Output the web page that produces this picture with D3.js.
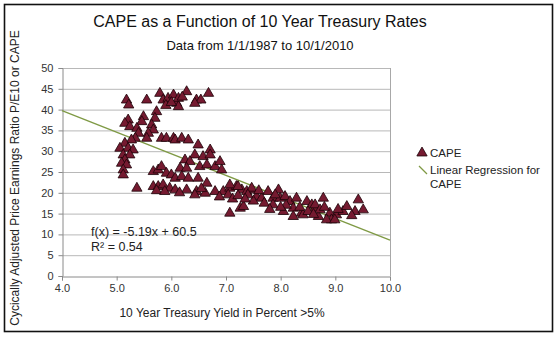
<!DOCTYPE html>
<html><head><meta charset="utf-8">
<script src="https://cdn.jsdelivr.net/npm/d3@7"></script>
<style>body{margin:0;background:#fff}svg{display:block;font-family:"Liberation Sans",Arial,sans-serif}</style>
</head><body><svg id="c" width="558" height="337"></svg>
<script>
const xTicks = [4, 5, 6, 7, 8, 9, 10];
const yTicks = [0, 5, 10, 15, 20, 25, 30, 35, 40, 45, 50];
const slope = -5.19, intercept = 60.5, r2 = 0.54;
// Yield (%) and CAPE pairs
const yields = [
 5.18,5.22,5.55,5.79,5.85,5.94,6.04,6.10,6.13,6.28,6.13,6.20,6.46,6.54,6.43,6.68,5.90,6.00,
 5.73,5.70,5.49,5.46,5.21,5.15,5.24,5.37,5.64,5.67,5.58,5.55,5.40,5.34,5.27,5.82,5.91,6.04,5.15,5.06,5.21,5.30,5.12,5.24,5.15,5.09,5.18,5.12,5.12,
 6.07,6.19,6.31,6.49,6.71,6.43,6.58,6.71,6.25,6.34,6.16,6.28,6.52,6.65,6.80,6.89,6.92,5.67,5.76,5.82,5.91,6.00,6.07,6.19,6.31,6.49,6.65,
 5.37,5.67,5.76,5.85,5.97,6.07,6.28,6.46,6.62,6.80,6.95,7.07,7.19,7.29,7.38,6.43,7.04,5.73,5.88,6.15,6.55,6.88,7.12,7.22,7.47,7.07,7.22,7.47,
 7.07,7.26,7.32,7.56,7.65,7.77,7.96,7.86,7.99,8.08,8.17,8.29,8.23,8.38,8.48,8.57,8.63,8.69,8.78,8.63,8.72,8.90,9.02,9.14,9.21,9.36,9.42,9.51,8.93,8.84,8.99,8.23,8.41,8.05,7.86,7.50,7.70,7.40,7.60,7.90,8.10,8.35,8.50,8.80,9.05,9.30,8.60,7.80,8.00,7.35
];
const cape = [
 42.3,41.1,42.3,43.9,42.3,42.7,43.5,41.5,40.7,44.3,42.7,43.0,42.3,42.3,41.5,43.9,41.0,41.7,
 39.5,37.9,38.3,37.1,37.5,36.7,35.9,35.5,36.3,35.1,34.3,33.1,34.3,33.1,32.7,33.1,33.1,33.1,31.9,30.7,30.7,30.3,29.1,29.1,27.9,27.1,26.7,25.5,24.3,
 32.7,33.1,32.7,31.5,30.3,29.1,28.7,29.1,27.9,27.5,25.9,25.9,26.3,26.7,26.3,27.5,25.5,25.1,25.5,26.3,24.7,24.3,23.5,23.9,23.5,23.5,22.3,
 21.1,21.5,21.5,21.9,21.1,20.7,20.7,20.3,19.9,20.3,20.3,21.1,21.5,20.7,20.3,19.5,19.5,20.5,20.3,20.0,21.0,19.0,18.5,19.3,20.7,21.9,21.5,21.1,
 15.1,16.3,16.7,19.1,18.7,20.3,20.7,18.7,18.7,19.1,17.9,18.7,16.3,15.1,17.9,17.1,16.3,14.3,18.7,17.1,15.9,15.1,14.7,15.5,16.7,15.5,18.3,15.9,13.5,13.5,13.5,14.3,14.7,15.5,17.1,18.0,17.5,19.5,20.5,19.5,17.0,16.5,15.5,16.5,16.0,14.5,14.8,16.0,16.5,18.5
];
const titleText = "CAPE as a Function of 10 Year Treasury Rates";
const subtitleText = "Data from 1/1/1987 to 10/1/2010";
const xTitle = "10 Year Treasury Yield in Percent >5%";
const yTitle = "Cycically Adjusted Price Earnings Ratio P/E10 or CAPE";
const legendLabels = ["CAPE", "Linear Regression for", "CAPE"];

const points = yields.map((x, i) => ({x, y: cape[i]}));
const svg = d3.select("#c");
const x = d3.scaleLinear().domain([4, 10]).range([62, 390]);
const y = d3.scaleLinear().domain([0, 50]).range([276, 68]);

svg.append("rect").attr("x", 4.5).attr("y", 4.5).attr("width", 548).attr("height", 327)
  .attr("fill", "#fff").attr("stroke", "#111").attr("stroke-width", 1.6);

// gridlines
svg.append("g").selectAll("line").data(yTicks.filter(d => d > 0)).join("line")
  .attr("x1", x(4)).attr("x2", x(10)).attr("y1", d => y(d) + 0.5).attr("y2", d => y(d) + 0.5)
  .attr("stroke", "#b8b8b8");
svg.append("line").attr("x1", x(10) + 0.5).attr("x2", x(10) + 0.5).attr("y1", y(50)).attr("y2", y(0))
  .attr("stroke", "#a8a8a8");

const xAxis = svg.append("g").attr("transform", `translate(0,${y(0) + 0.5})`)
  .call(d3.axisBottom(x).tickValues(xTicks).tickFormat(d3.format(".1f")).tickSize(4).tickPadding(4));
const yAxis = svg.append("g").attr("transform", `translate(${x(4) + 0.5},0)`)
  .call(d3.axisLeft(y).tickValues(yTicks).tickSize(4).tickPadding(5));
[xAxis, yAxis].forEach(a => {
  a.select(".domain").attr("stroke", "#8a8a8a");
  a.selectAll(".tick line").attr("stroke", "#8a8a8a");
  a.selectAll("text").attr("fill", "#333").style("font-size", "11px").style("font-family", '"Liberation Sans",Arial,sans-serif');
});

// regression line
svg.append("line").attr("x1", x(4)).attr("y1", y(slope * 4 + intercept))
  .attr("x2", x(10)).attr("y2", y(slope * 10 + intercept))
  .attr("stroke", "#7f9a45").attr("stroke-width", 1.3);

const tri = d3.symbol().type(d3.symbolTriangle).size(46);
svg.append("g").selectAll("path").data(points).join("path")
  .attr("transform", d => `translate(${x(d.x)},${y(d.y)})`)
  .attr("d", tri).attr("fill", "#751a30").attr("stroke", "#1c0208").attr("stroke-width", 0.8);

// regression text
svg.append("text").attr("x", 91).attr("y", 236).attr("font-size", 12.5).attr("fill", "#222")
  .text(`f(x) = ${slope}x + ${intercept}`);
svg.append("text").attr("x", 91).attr("y", 251).attr("font-size", 12.5).attr("fill", "#222")
  .text(`R² = ${r2}`);

// titles
svg.append("text").attr("x", 260).attr("y", 27).attr("text-anchor", "middle").attr("font-size", 16).attr("fill", "#111").text(titleText);
svg.append("text").attr("x", 260).attr("y", 50).attr("text-anchor", "middle").attr("font-size", 13).attr("fill", "#111").text(subtitleText);
svg.append("text").attr("x", 222).attr("y", 317).attr("text-anchor", "middle").attr("font-size", 12).attr("fill", "#222").text(xTitle);
svg.append("text").attr("transform", "translate(19,178) rotate(-90)").attr("text-anchor", "middle").attr("font-size", 12).attr("fill", "#222").text(yTitle);

// legend
svg.append("path").attr("transform", "translate(422,153)").attr("d", tri).attr("fill", "#751a30").attr("stroke", "#1c0208").attr("stroke-width", 0.8);
svg.append("line").attr("x1", 419).attr("y1", 166).attr("x2", 427).attr("y2", 174).attr("stroke", "#7f9a45").attr("stroke-width", 1.2);
svg.append("text").attr("x", 430).attr("y", 157).attr("font-size", 11.5).attr("fill", "#222").text(legendLabels[0]);
svg.append("text").attr("x", 430).attr("y", 174).attr("font-size", 11.5).attr("fill", "#222").text(legendLabels[1]);
svg.append("text").attr("x", 430).attr("y", 188).attr("font-size", 11.5).attr("fill", "#222").text(legendLabels[2]);
</script></body></html>
